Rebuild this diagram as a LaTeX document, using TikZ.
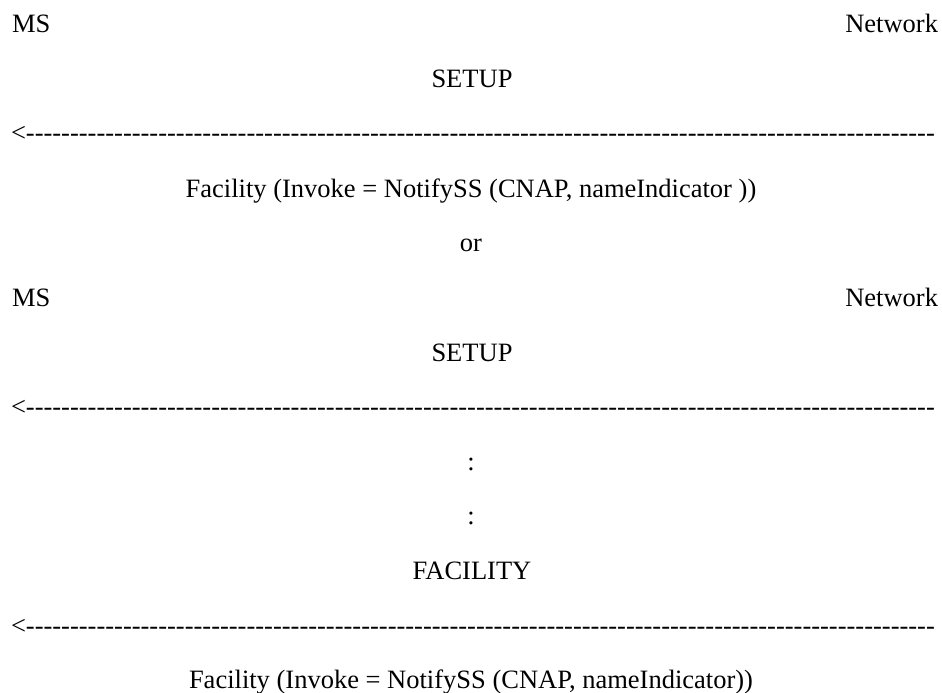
\documentclass[tikz,border=0pt]{standalone}
\usepackage{fontspec}
\setmainfont{Liberation Serif}[Ligatures=TeXOff]
\newcommand\mydashrun{<\foreach \k in {1,...,103}{-}}
\begin{document}
\begin{tikzpicture}[x=1bp,y=-1bp,
  txt/.style={inner sep=0pt,outer sep=0pt,font=\fontsize{26.5bp}{30bp}\selectfont},
  ctr/.style={txt,anchor=base},
  lft/.style={txt,anchor=base west},
  rgt/.style={txt,anchor=base east}]
\useasboundingbox (0,0) rectangle (942,693);
\node[lft] (ms1) at (12,33) {MS};
\node[rgt] (net1) at (938,33) {Network};
\node[ctr] (setup1) at (472,88) {SETUP};
\node[lft] (arr1) at (11,142) {\mydashrun};
\node[ctr] (fac1) at (471,197) {Facility (Invoke = NotifySS (CNAP, nameIndicator ))};
\node[ctr] (or) at (471,251) {or};
\node[lft] (ms2) at (12,306) {MS};
\node[rgt] (net2) at (938,306) {Network};
\node[ctr] (setup2) at (472,361) {SETUP};
\node[lft] (arr2) at (11,415) {\mydashrun};
\node[ctr] (col1) at (471,470) {:};
\node[ctr] (col2) at (471,524) {:};
\node[ctr] (facmsg) at (472,579) {FACILITY};
\node[lft] (arr3) at (11,634) {\mydashrun};
\node[ctr] (fac2) at (471,688) {Facility (Invoke = NotifySS (CNAP, nameIndicator))};
\end{tikzpicture}
\end{document}
